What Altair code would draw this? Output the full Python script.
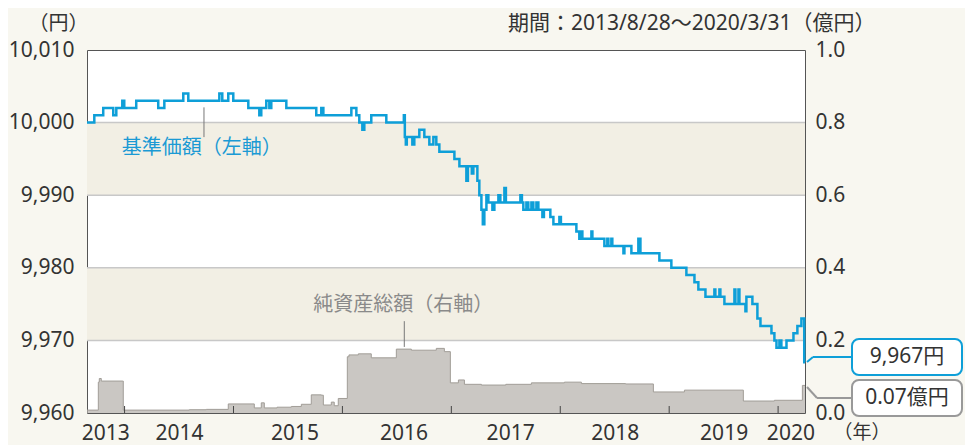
import altair as alt
import pandas as pd

# ---------------- data (decimal years) ----------------
nav_t = [2013.655, 2013.722, 2013.804, 2013.896, 2013.924, 2013.979, 2013.997, 2014.107, 2014.309, 2014.365,
         2014.539, 2014.585, 2014.870, 2014.897, 2014.952, 2014.998, 2015.136, 2015.237, 2015.255, 2015.301,
         2015.329, 2015.347, 2015.485, 2015.760, 2015.806, 2015.825, 2016.082, 2016.128, 2016.155, 2016.183,
         2016.201, 2016.265, 2016.403, 2016.564, 2016.573, 2016.582, 2016.591, 2016.642, 2016.660, 2016.706,
         2016.752, 2016.798, 2016.835, 2016.862, 2016.890, 2017.028, 2017.074, 2017.138, 2017.152, 2017.188,
         2017.202, 2017.239, 2017.257, 2017.276, 2017.289, 2017.303, 2017.322, 2017.340, 2017.377, 2017.395,
         2017.432, 2017.450, 2017.487, 2017.501, 2017.634, 2017.648, 2017.661, 2017.689, 2017.707, 2017.735,
         2017.753, 2017.781, 2017.799, 2017.836, 2017.850, 2017.909, 2017.937, 2017.992, 2018.006, 2018.148,
         2018.175, 2018.194, 2018.203, 2018.286, 2018.295, 2018.405, 2018.432, 2018.442, 2018.469, 2018.478,
         2018.580, 2018.589, 2018.653, 2018.717, 2018.736, 2018.910, 2019.020, 2019.158, 2019.232, 2019.268,
         2019.333, 2019.415, 2019.424, 2019.461, 2019.470, 2019.507, 2019.599, 2019.608, 2019.636, 2019.645,
         2019.700, 2019.709, 2019.764, 2019.810, 2019.838, 2019.939, 2019.966, 2019.985, 2020.012, 2020.030,
         2020.077, 2020.141, 2020.177, 2020.214, 2020.240, 2020.247]
nav_v = [10000, 10001, 10002, 10001, 10002, 10003, 10002, 10003, 10002, 10003,
         10004, 10003, 10004, 10003, 10004, 10003, 10002, 10001, 10002, 10003,
         10002, 10003, 10002, 10001, 10002, 10001, 10002, 10001, 10000, 9999,
         10000, 10001, 10000, 10001, 9998, 9997, 9998, 9997, 9998, 9999,
         9998, 9997, 9998, 9997, 9996, 9995, 9994, 9992, 9994, 9993,
         9994, 9992, 9990, 9988, 9986, 9988, 9990, 9989, 9988, 9989,
         9990, 9989, 9991, 9989, 9990, 9989, 9988, 9989, 9988, 9989,
         9988, 9989, 9988, 9987, 9988, 9987, 9986, 9987, 9986, 9985,
         9984, 9985, 9984, 9985, 9984, 9983, 9984, 9983, 9984, 9983,
         9982, 9983, 9982, 9984, 9982, 9981, 9980, 9979, 9978, 9977,
         9976, 9977, 9976, 9977, 9976, 9975, 9977, 9975, 9977, 9975,
         9974, 9976, 9975, 9973, 9972, 9971, 9970, 9969, 9970, 9969,
         9970, 9971, 9972, 9973, 9967, 9967]

asset_t = [2013.655, 2013.759, 2013.768, 2013.786, 2013.979, 2013.988, 2014.594, 2014.750, 2014.952, 2015.191,
           2015.255, 2015.283, 2015.400, 2015.531, 2015.623, 2015.714, 2015.806, 2015.825, 2015.898, 2015.925,
           2015.962, 2016.045, 2016.060, 2016.146, 2016.265, 2016.495, 2016.633, 2016.862, 2016.936, 2016.991,
           2017.065, 2017.120, 2017.276, 2017.500, 2017.735, 2018.038, 2018.194, 2018.600, 2018.855, 2019.140,
           2019.681, 2019.966, 2020.223, 2020.247]
asset_v = [0.008, 0.085, 0.095, 0.088, 0.088, 0.008, 0.009, 0.010, 0.025, 0.014,
           0.028, 0.014, 0.016, 0.018, 0.024, 0.050, 0.049, 0.022, 0.030, 0.020,
           0.040, 0.155, 0.160, 0.163, 0.152, 0.176, 0.173, 0.178, 0.169, 0.083,
           0.091, 0.079, 0.077, 0.079, 0.083, 0.085, 0.081, 0.080, 0.058, 0.063,
           0.033, 0.035, 0.076, 0.076]

year_ticks = [2014, 2015, 2016, 2017, 2018, 2019, 2020]
year_label_pos = [2013.823, 2014.5, 2015.56, 2016.56, 2017.54, 2018.5, 2019.5, 2020.113]
left_ticks = [9960, 9970, 9980, 9990, 10000, 10010]
right_ticks = [0.0, 0.2, 0.4, 0.6, 0.8, 1.0]
band_lo = [9990, 9970]
band_hi = [10000, 9980]
grid_vals = [9970, 9980, 9990, 10000]

nav_label = ["基準価額（左軸）"]
nav_label_t = [2014.709]
nav_label_v = [9996.5]
nav_leader_t = [2014.729]
nav_leader_v = [10002.1]
nav_leader_v2 = [9998.0]

asset_label = ["純資産総額（右軸）"]
asset_label_t = [2016.559]
asset_label_v = [0.2975]
asset_leader_t = [2016.568]
asset_leader_v = [0.253]
asset_leader_v2 = [0.182]

last_nav_text = ["9,967円"]
last_asset_text = ["0.07億円"]
period_text = ["期間：2013/8/28～2020/3/31（億円）"]
yen_unit = ["（円）"]
year_unit = ["（年）"]

# ---------------- styling ----------------
W, H = 718, 363
XDOM = [2013.655, 2020.247]
FONT = "Noto Sans, Noto Sans CJK JP"
BLUE = "#0e9fd8"
AREA = "#b3afa9"
AREA_LINE = "#a19d97"
TEXT = "#333333"
BAND = "#f2efe4"
GRID = "#c8c8c8"
BG = "#f8f7f0"

xq = alt.X("t:Q", scale=alt.Scale(domain=XDOM, nice=False, zero=False),
           axis=alt.Axis(values=year_label_pos, labelExpr="format(floor(datum.value), 'd')",
                         ticks=False, domain=False, grid=False, labelFontSize=21, labelColor=TEXT,
                         labelPadding=9, labelFlush=False, title=None, labelFont=FONT))


def yL(field, axis=None):
    return alt.Y(field, type="quantitative",
                 scale=alt.Scale(domain=[9960, 10010], nice=False, zero=False),
                 axis=axis)


def yR(field, axis=None):
    return alt.Y(field, type="quantitative",
                 scale=alt.Scale(domain=[0, 1], nice=False, zero=False),
                 axis=axis)


nav_df = pd.DataFrame({"t": nav_t, "v": nav_v})
asset_df = pd.DataFrame({"t": asset_t, "a": asset_v})

bands = alt.Chart(pd.DataFrame({"lo": band_lo, "hi": band_hi})).mark_rect(color=BAND).encode(
    x=alt.value(0), x2=alt.value(W), y=yL("lo"), y2="hi:Q")

grid = alt.Chart(pd.DataFrame({"g": grid_vals})).mark_rule(color=GRID, strokeWidth=1.5).encode(
    x=alt.value(0), x2=alt.value(W), y=yL("g"))

area = alt.Chart(asset_df).mark_area(
    interpolate="step-after", color=AREA,
    line={"color": AREA_LINE, "strokeWidth": 1}).encode(
    x=xq,
    y=yR("a", alt.Axis(orient="right", values=right_ticks, format=".1f", ticks=False, domain=False,
                       grid=False, labelFontSize=21, labelColor=TEXT, labelPadding=10, title=None,
                       labelFont=FONT)))

line = alt.Chart(nav_df).mark_line(interpolate="step-after", color=BLUE, strokeWidth=2.5).encode(
    x=xq,
    y=yL("v", alt.Axis(orient="left", values=left_ticks, format=",d", ticks=False, domain=False,
                       grid=False, labelFontSize=21, labelColor=TEXT, labelPadding=13, title=None,
                       labelFont=FONT)))

ticks = alt.Chart(pd.DataFrame({"t": year_ticks})).mark_rule(color="#444444", strokeWidth=1).encode(
    x=xq, y=alt.value(H - 7), y2=alt.value(H))

nav_lead = alt.Chart(pd.DataFrame({"t": nav_leader_t, "v": nav_leader_v, "v2": nav_leader_v2})).mark_rule(
    color="#777777", strokeWidth=1).encode(x=xq, y=yL("v"), y2="v2:Q")
nav_txt = alt.Chart(pd.DataFrame({"t": nav_label_t, "v": nav_label_v, "s": nav_label})).mark_text(
    fontSize=20, color="#1b9ad4", font=FONT, align="center", baseline="middle").encode(
    x=xq, y=yL("v"), text="s:N")

asset_lead = alt.Chart(pd.DataFrame({"t": asset_leader_t, "a": asset_leader_v, "a2": asset_leader_v2})).mark_rule(
    color="#777777", strokeWidth=1).encode(x=xq, y=yR("a"), y2="a2:Q")
asset_txt = alt.Chart(pd.DataFrame({"t": asset_label_t, "a": asset_label_v, "s": asset_label})).mark_text(
    fontSize=20, color="#8a8a8a", font=FONT, align="center", baseline="middle").encode(
    x=xq, y=yR("a"), text="s:N")

# margin texts
yen_txt = alt.Chart(pd.DataFrame({"s": yen_unit})).mark_text(
    fontSize=20, color=TEXT, font=FONT, align="center", baseline="middle").encode(
    x=alt.value(-28.5), y=alt.value(-26), text="s:N")
period_txt = alt.Chart(pd.DataFrame({"s": period_text})).mark_text(
    fontSize=21, color=TEXT, font=FONT, align="left", baseline="middle").encode(
    x=alt.value(421), y=alt.value(-26), text="s:N")
year_txt = alt.Chart(pd.DataFrame({"s": year_unit})).mark_text(
    fontSize=19, color=TEXT, font=FONT, align="center", baseline="middle").encode(
    x=alt.value(775), y=alt.value(383), text="s:N")

# callouts
one = pd.DataFrame({"s": last_nav_text})
two = pd.DataFrame({"s": last_asset_text})
c1a = alt.Chart(one).mark_rule(color=BLUE, strokeWidth=2).encode(
    x=alt.value(720), y=alt.value(312), x2=alt.value(726), y2=alt.value(307))
c1b = alt.Chart(one).mark_rule(color=BLUE, strokeWidth=2).encode(
    x=alt.value(726), y=alt.value(307), x2=alt.value(765), y2=alt.value(307))
box1 = alt.Chart(one).mark_rect(fill="white", stroke=BLUE, strokeWidth=2, cornerRadius=7).encode(
    x=alt.value(765), x2=alt.value(875), y=alt.value(289), y2=alt.value(325))
t1 = alt.Chart(one).mark_text(fontSize=21, color=TEXT, font=FONT, align="center", baseline="middle").encode(
    x=alt.value(820), y=alt.value(307), text="s:N")
c2a = alt.Chart(two).mark_rule(color="#999999", strokeWidth=2).encode(
    x=alt.value(720), y=alt.value(337), x2=alt.value(730), y2=alt.value(348))
c2b = alt.Chart(two).mark_rule(color="#999999", strokeWidth=2).encode(
    x=alt.value(730), y=alt.value(348), x2=alt.value(765), y2=alt.value(348))
box2 = alt.Chart(two).mark_rect(fill="white", stroke="#999999", strokeWidth=2, cornerRadius=7).encode(
    x=alt.value(765), x2=alt.value(875), y=alt.value(330), y2=alt.value(366))
t2 = alt.Chart(two).mark_text(fontSize=21, color=TEXT, font=FONT, align="center", baseline="middle").encode(
    x=alt.value(820), y=alt.value(348), text="s:N")

chart = alt.layer(
    bands, grid, area, line, ticks, nav_lead, nav_txt, asset_lead, asset_txt,
    yen_txt, period_txt, year_txt, c1a, c1b, c2a, c2b, box1, box2, t1, t2
).resolve_scale(y="independent").properties(
    width=W, height=H,
    autosize=alt.AutoSizeParams(type="none"),
    padding={"left": 79, "top": 42, "right": 160, "bottom": 32},
    background=BG,
).configure_view(fill="white", stroke="#555555", strokeWidth=1)

chart.save("out.html", embed_options={"renderer": "svg", "actions": False})
